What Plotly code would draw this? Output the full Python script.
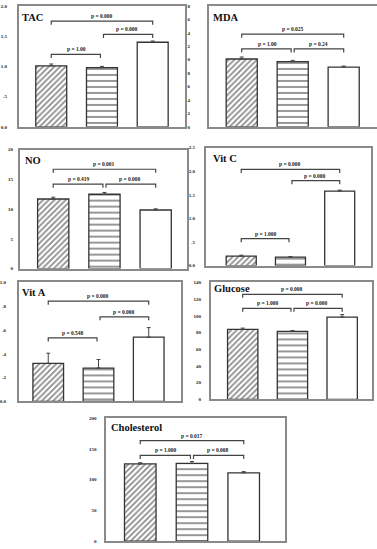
import plotly.graph_objects as go

# ---------------- data ----------------
groups = [0, 1, 2]
patterns = ["/", "-", ""]

titles = ["TAC", "MDA", "NO", "Vit C", "Vit A", "Glucose", "Cholesterol"]

tac_vals = [1.01, 0.98, 1.40]
tac_err = [0.03, 0.02, 0.02]
mda_vals = [10.1, 9.7, 8.9]
mda_err = [0.3, 0.2, 0.15]
no_vals = [11.7, 12.5, 9.85]
no_err = [0.3, 0.3, 0.2]
vitc_vals = [0.20, 0.18, 1.58]
vitc_err = [0.02, 0.01, 0.02]
vita_vals = [0.32, 0.28, 0.54]
vita_err = [0.085, 0.072, 0.08]
glu_vals = [83.8, 81.5, 98.5]
glu_err = [1.5, 0.8, 3.0]
chol_vals = [125.5, 126.5, 111.0]
chol_err = [2.0, 3.0, 2.0]

# brackets: (from group, to group, level, label)
tac_brackets = [(0, 1, 1.20, "p = 1.00"), (1, 2, 1.53, "p = 0.000"), (0, 2, 1.75, "p = 0.000")]
mda_brackets = [(0, 1, 11.6, "p = 1.00"), (1, 2, 11.6, "p = 0.24"), (0, 2, 13.8, "p = 0.025")]
no_brackets = [(0, 1, 14.2, "p = 0.419"), (1, 2, 14.2, "p = 0.000"), (0, 2, 16.7, "p = 0.001")]
vitc_brackets = [(0, 1, 0.57, "p = 1.000"), (1, 2, 1.80, "p = 0.000"), (0, 2, 2.04, "p = 0.000")]
vita_brackets = [(0, 1, 0.533, "p = 0.548"), (1, 2, 0.711, "p = 0.000"), (0, 2, 0.842, "p = 0.000")]
glu_brackets = [(0, 1, 109, "p = 1.000"), (1, 2, 109, "p = 0.000"), (0, 2, 125.8, "p = 0.000")]
chol_brackets = [(0, 1, 139.5, "p = 1.000"), (1, 2, 139.5, "p = 0.008"), (0, 2, 163.5, "p = 0.017")]

# tick values / labels
tac_ticks = [0, 0.5, 1.0, 1.5, 2.0]
tac_ticktext = ["0.0", ".5", "1.0", "1.5", "2.0"]
mda_ticks = [0, 2, 4, 6, 8, 10, 12, 14, 16, 18]
mda_ticktext = ["0", "2", "4", "6", "8", "0", "2", "4", "6", "8"]
no_ticks = [0, 5, 10, 15, 20]
no_ticktext = ["0", "5", "10", "15", "20"]
vitc_ticks = [0, 0.5, 1.0, 1.5, 2.0, 2.5]
vitc_ticktext = ["0.0", ".5", "1.0", "1.5", "2.0", "2.5"]
vita_ticks = [0, 0.2, 0.4, 0.6, 0.8, 1.0]
vita_ticktext = ["0.0", ".2", ".4", ".6", ".8", "1.0"]
glu_ticks = [0, 20, 40, 60, 80, 100, 120, 140]
glu_ticktext = ["0", "20", "40", "60", "80", "100", "120", "140"]
chol_ticks = [0, 50, 100, 150, 200]
chol_ticktext = ["0", "50", "100", "150", "200"]

values = [tac_vals, mda_vals, no_vals, vitc_vals, vita_vals, glu_vals, chol_vals]
errors = [tac_err, mda_err, no_err, vitc_err, vita_err, glu_err, chol_err]
brackets = [tac_brackets, mda_brackets, no_brackets, vitc_brackets, vita_brackets, glu_brackets, chol_brackets]
tickvals = [tac_ticks, mda_ticks, no_ticks, vitc_ticks, vita_ticks, glu_ticks, chol_ticks]
ticktexts = [tac_ticktext, mda_ticktext, no_ticktext, vitc_ticktext, vita_ticktext, glu_ticktext, chol_ticktext]

# ---------------- layout geometry (pixels) ----------------
W, H = 377, 549
# (left, right, top, bottom, first bar centre, bar spacing, label standoff, title dx, title dy)
frames = [
    (17, 184, 4, 126, 49.5, 51.0, 9, 1, -4),
    (208, 377, 4, 126, 241.0, 51.25, 16, 2, -4),
    (18, 186, 149, 269, 51.5, 51.5, 4, 3, -3),
    (205, 371, 147, 266, 240.5, 49.5, 8, 5, -3),
    (17, 180, 283, 403, 46.5, 50.5, 10, 1, -3),
    (210, 372, 283, 401, 242.0, 50.0, 7, 1, 1),
    (105, 285, 420, 544, 139.0, 52.0, 7, 3, -2),
]

SERIF = "Liberation Serif"
fig = go.Figure()
layout = dict(
    width=W, height=H, margin=dict(l=0, r=0, t=0, b=0),
    paper_bgcolor="white", plot_bgcolor="white", showlegend=False,
    shapes=[], annotations=[],
)

for i in range(7):
    n = i + 1
    xa = "x" if n == 1 else f"x{n}"
    ya = "y" if n == 1 else f"y{n}"
    L, R, T, B, c0, s, stand, tdx, tdy = frames[i]
    ymax = tickvals[i][-1]
    fig.add_trace(go.Bar(
        x=groups, y=values[i], width=0.61, xaxis=xa, yaxis=ya,
        marker=dict(color="white", line=dict(color="#333", width=1.3),
                    pattern=dict(shape=patterns, fgcolor="#1a1a1a", size=[4, 6, 6], solidity=[0.45, 0.3, 0.2])),
        error_y=dict(type="data", array=errors[i], arrayminus=[0, 0, 0], symmetric=False,
                     color="#444", thickness=1, width=2),
    ))
    xkey = "xaxis" if n == 1 else f"xaxis{n}"
    ykey = "yaxis" if n == 1 else f"yaxis{n}"
    layout[xkey] = dict(
        domain=[L / W, R / W], anchor=ya, range=[(L - c0) / s, (R - c0) / s],
        showticklabels=False, ticks="", showgrid=False, zeroline=False,
        showline=True, linecolor="#8a8a8a", linewidth=2, mirror=True,
    )
    layout[ykey] = dict(
        domain=[1 - B / H, 1 - T / H], anchor=xa, range=[0, ymax],
        tickvals=tickvals[i], ticktext=ticktexts[i], ticks="",
        tickfont=dict(family=SERIF, size=5, color="#222", weight="bold"),
        ticklabelstandoff=stand,
        showgrid=False, zeroline=False,
        showline=True, linecolor="#8a8a8a", linewidth=2, mirror=(n != 2),
    )
    # title
    layout["annotations"].append(dict(
        text=f"<b>{titles[i]}</b>", xref=f"{xa} domain", yref=f"{ya} domain",
        x=0, y=1, xanchor="left", yanchor="top", xshift=tdx, yshift=tdy, showarrow=False,
        font=dict(family=SERIF, size=10.5, color="#111"),
    ))
    # brackets
    tick = 0.03 * ymax
    for (a, b, lvl, lab) in brackets[i]:
        xa0 = a + (0.03 if (b - a) == 1 and a == 1 else 0)
        xb0 = b - (0.03 if (b - a) == 1 and b == 1 else 0)
        path = f"M {xa0},{lvl - tick} L {xa0},{lvl} L {xb0},{lvl} L {xb0},{lvl - tick}"
        layout["shapes"].append(dict(type="path", path=path, xref=xa, yref=ya,
                                     line=dict(color="#444", width=1.2)))
        layout["annotations"].append(dict(
            text=f"<b>{lab}</b>", xref=xa, yref=ya, x=(a + b) / 2, y=lvl,
            xanchor="center", yanchor="bottom", yshift=0, showarrow=False,
            font=dict(family=SERIF, size=5.5, color="#222"),
        ))

fig.update_layout(**layout)
fig.write_html("out.html")
